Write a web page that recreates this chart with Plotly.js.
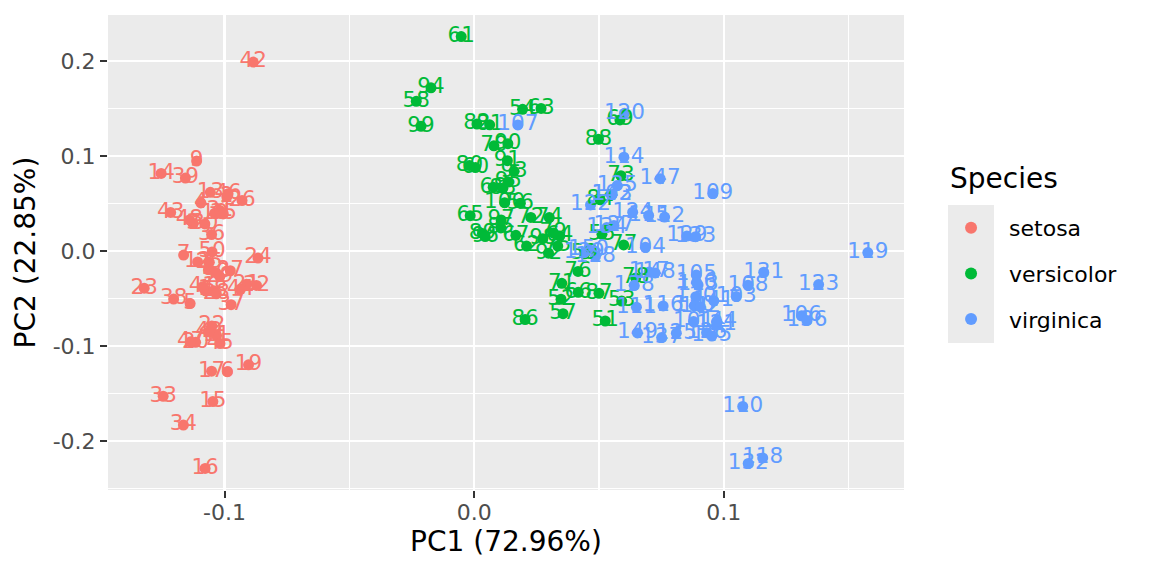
<!DOCTYPE html>
<html>
<head>
<meta charset="utf-8">
<script src="https://cdn.plot.ly/plotly-3.0.1.min.js"></script>
<style>html,body{margin:0;padding:0;background:#fff;}#chart{width:1152px;height:576px;}</style>
</head>
<body>
<div id="chart"></div>
<script>
// Species names and colours
const speciesNames = ['setosa', 'versicolor', 'virginica'];
const speciesColors = ['#F8766D', '#00BA38', '#619CFF'];
const legendTitle = 'Species';

// Row labels (observation numbers)
const labelsSetosa = [1,2,3,4,5,6,7,8,9,10,11,12,13,14,15,16,17,18,19,20,21,22,23,24,25,26,27,28,29,30,31,32,33,34,35,36,37,38,39,40,41,42,43,44,45,46,47,48,49,50];
const labelsVersicolor = [51,52,53,54,55,56,57,58,59,60,61,62,63,64,65,66,67,68,69,70,71,72,73,74,75,76,77,78,79,80,81,82,83,84,85,86,87,88,89,90,91,92,93,94,95,96,97,98,99,100];
const labelsVirginica = [101,102,103,104,105,106,107,108,109,110,111,112,113,114,115,116,117,118,119,120,121,122,123,124,125,126,127,128,129,130,131,132,133,134,135,136,137,138,139,140,141,142,143,144,145,146,147,148,149,150];

// PC1 / PC2 scores
const pc1Setosa = [-0.1079,-0.0991,-0.1126,-0.1095,-0.1138,-0.0989,-0.1164,-0.1064,-0.1112,-0.1040,
 -0.1032,-0.1108,-0.1057,-0.1254,-0.1047,-0.1078,-0.1052,-0.1043,-0.0904,-0.1116,
 -0.0912,-0.1051,-0.1322,-0.0866,-0.1061,-0.0930,-0.0977,-0.1033,-0.1019,-0.1079,
 -0.1019,-0.0872,-0.1246,-0.1165,-0.1005,-0.1052,-0.0974,-0.1204,-0.1157,-0.1034,
 -0.1089,-0.0885,-0.1216,-0.0936,-0.1018,-0.0986,-0.1136,-0.1141,-0.1062,-0.1050];
const pc2Setosa = [-0.0409,0.0574,0.0291,0.0508,-0.0551,-0.1268,-0.0041,-0.0190,0.0949,0.0399,
 -0.0888,-0.0113,0.0620,0.0818,-0.1583,-0.2287,-0.1263,-0.0416,-0.1196,-0.0960,
 -0.0348,-0.0787,-0.0390,-0.0073,-0.0117,0.0533,-0.0206,-0.0449,-0.0267,0.0287,
 0.0429,-0.0361,-0.1527,-0.1831,0.0392,0.0175,-0.0563,-0.0504,0.0770,-0.0229,
 -0.0376,0.1990,0.0408,-0.0402,-0.0972,0.0605,-0.0954,0.0329,-0.0849,-0.0008];

const pc1Versicolor = [0.0525,0.0348,0.0591,0.0194,0.0512,0.0185,0.0356,-0.0232,0.0442,0.0005,
 -0.0052,0.0210,0.0268,0.0343,-0.0016,0.0417,0.0167,0.0076,0.0584,0.0079,
 0.0351,0.0227,0.0588,0.0301,0.0335,0.0416,0.0599,0.0647,0.0317,-0.0019,
 0.0062,0.0011,0.0115,0.0505,0.0107,0.0204,0.0500,0.0498,0.0033,0.0135,
 0.0133,0.0298,0.0160,-0.0173,0.0137,0.0044,0.0108,0.0275,-0.0213,0.0122];
const pc2Versicolor = [-0.0735,-0.0506,-0.0525,0.1493,0.0177,0.0505,-0.0658,0.1577,-0.0027,0.0880,
 0.2259,0.0054,0.1502,0.0159,0.0374,-0.0433,0.0167,0.0674,0.1381,0.1109,
 -0.0338,0.0355,0.0794,0.0354,0.0054,-0.0213,0.0066,-0.0282,0.0192,0.0901,
 0.1330,0.1338,0.0662,0.0540,0.0245,-0.0720,-0.0444,0.1177,0.0187,0.1131,
 0.0953,-0.0021,0.0841,0.1719,0.0728,0.0154,0.0328,0.0132,0.1314,0.0510];

const pc1Virginica = [0.0879,0.0552,0.1050,0.0686,0.0890,0.1311,0.0175,0.1097,0.0956,0.1076,
 0.0650,0.0763,0.0897,0.0600,0.0699,0.0757,0.0701,0.1156,0.1577,0.0602,
 0.0971,0.0466,0.1380,0.0635,0.0810,0.0931,0.0560,0.0486,0.0852,0.0888,
 0.1160,0.1098,0.0887,0.0531,0.0573,0.1333,0.0751,0.0641,0.0441,0.0882,
 0.0960,0.0906,0.0552,0.0972,0.0952,0.0891,0.0745,0.0725,0.0654,0.0458];
const pc2Virginica = [-0.0741,0.0595,-0.0478,0.0040,-0.0251,-0.0681,0.1329,-0.0358,0.0606,-0.1635,
 -0.0590,0.0359,-0.0357,0.0989,0.0376,-0.0576,-0.0218,-0.2176,-0.0015,0.1453,
 -0.0775,0.0487,-0.0352,0.0410,-0.0863,-0.0858,0.0269,-0.0055,0.0159,-0.0479,
 -0.0221,-0.2235,0.0152,0.0249,0.0691,-0.0729,-0.0910,-0.0360,-0.0015,-0.0576,
 -0.0523,-0.0587,0.0595,-0.0738,-0.0893,-0.0329,0.0763,-0.0229,-0.0861,0.0021];

// Axis ticks
const xTickVals = [-0.1, 0.0, 0.1];
const xTickText = ['-0.1', '0.0', '0.1'];
const xMinorVals = [-0.15, -0.05, 0.05, 0.15];
const yTickVals = [-0.2, -0.1, 0.0, 0.1, 0.2];
const yTickText = ['-0.2', '-0.1', '0.0', '0.1', '0.2'];
const yMinorVals = [-0.25, -0.15, -0.05, 0.05, 0.15];

const xs = [pc1Setosa, pc1Versicolor, pc1Virginica];
const ys = [pc2Setosa, pc2Versicolor, pc2Virginica];
const labs = [labelsSetosa, labelsVersicolor, labelsVirginica];

const FONT = 'DejaVu Sans, Verdana, sans-serif';
const traces = [];
for (let i = 0; i < 3; i++) {
  traces.push({
    type: 'scatter', mode: 'markers', name: speciesNames[i],
    x: xs[i], y: ys[i], legendgroup: 'g' + i,
    marker: {color: speciesColors[i], size: 11, line: {width: 0}},
    hoverinfo: 'skip', cliponaxis: true
  });
}
for (let i = 0; i < 3; i++) {
  traces.push({
    type: 'scatter', mode: 'text', name: speciesNames[i], showlegend: false,
    x: xs[i], y: ys[i], legendgroup: 'g' + i,
    text: labs[i].map(String), textposition: 'middle center',
    textfont: {family: FONT, size: 21.5, color: speciesColors[i]},
    hoverinfo: 'skip', cliponaxis: true
  });
}

const layout = {
  width: 1152, height: 576,
  margin: {l: 108, r: 248, t: 15, b: 86, pad: 0},
  paper_bgcolor: '#FFFFFF', plot_bgcolor: '#EBEBEB',
  font: {family: FONT, color: '#000000'},
  showlegend: true,
  xaxis: {
    range: [-0.1467, 0.1722], tickmode: 'array', tickvals: xTickVals, ticktext: xTickText,
    showgrid: true, gridcolor: '#FFFFFF', gridwidth: 2.2, zeroline: false, showline: false,
    ticks: 'outside', ticklen: 7, tickwidth: 2, tickcolor: '#333333', ticklabelstandoff: -4,
    tickfont: {family: FONT, size: 22, color: '#4D4D4D'},
    minor: {tickmode: 'array', tickvals: xMinorVals, showgrid: true, gridcolor: '#FFFFFF', gridwidth: 1.1, ticks: ''},
    title: {text: 'PC1 (72.96%)', font: {family: FONT, size: 28, color: '#000000'}, standoff: 5}
  },
  yaxis: {
    range: [-0.2514, 0.2486], tickmode: 'array', tickvals: yTickVals, ticktext: yTickText,
    showgrid: true, gridcolor: '#FFFFFF', gridwidth: 2.2, zeroline: false, showline: false,
    ticks: 'outside', ticklen: 7, tickwidth: 2, tickcolor: '#333333',
    tickfont: {family: FONT, size: 22, color: '#4D4D4D'},
    minor: {tickmode: 'array', tickvals: yMinorVals, showgrid: true, gridcolor: '#FFFFFF', gridwidth: 1.1, ticks: ''},
    title: {text: 'PC2 (22.85%)', font: {family: FONT, size: 28, color: '#000000'}, standoff: 8}
  },
  legend: {
    x: 1.0365, xanchor: 'left', y: 0.5958, yanchor: 'top',
    bgcolor: 'rgba(0,0,0,0)', borderwidth: 0,
    font: {family: FONT, size: 22, color: '#000000'},
    traceorder: 'grouped', tracegroupgap: 14, itemsizing: 'constant', itemwidth: 66
  },
  annotations: [{
    text: legendTitle, xref: 'paper', yref: 'paper', x: 1.0553, y: 0.6568,
    xanchor: 'left', yanchor: 'middle', showarrow: false,
    font: {family: FONT, size: 28, color: '#000000'}
  }],
  shapes: [{
    type: 'rect', xref: 'paper', yref: 'paper', layer: 'below',
    x0: 1.0553, x1: 1.1131, y0: 0.3095, y1: 0.6,
    fillcolor: '#EBEBEB', line: {width: 0}
  }]
};

Plotly.newPlot('chart', traces, layout, {displayModeBar: false, staticPlot: true});
</script>
</body>
</html>
